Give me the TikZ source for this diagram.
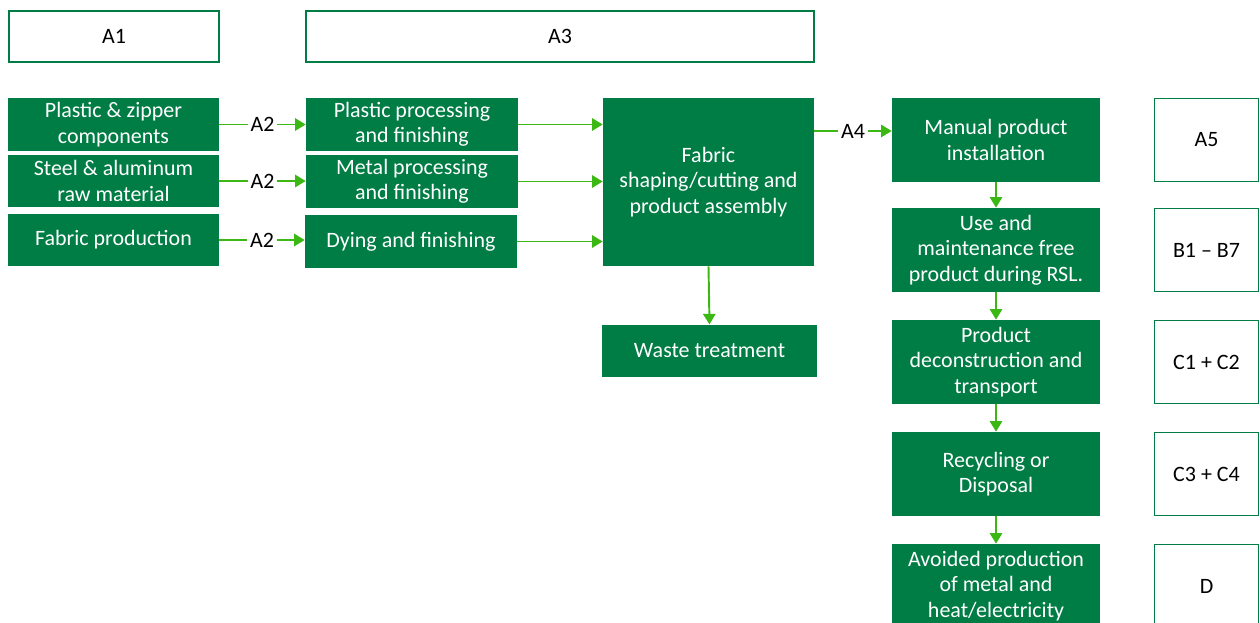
\documentclass[tikz,border=0pt]{standalone}
\usepackage{fontspec}
\setmainfont{Carlito}
\usetikzlibrary{arrows.meta}
\definecolor{dkgreen}{RGB}{0,124,69}
\definecolor{arrgreen}{RGB}{60,184,20}
\begin{document}
\begin{tikzpicture}[
			x=0.02cm, y=-0.02cm,
			gbox/.style={
			fill=dkgreen,
			text=white,
			text centered,
			align=center,
			inner sep=1pt,
			minimum width=4.22cm,
			minimum height=1.05cm,
			font=\fontsize{12.5}{14.5}\selectfont,
			anchor=center,
			},
			wbox/.style={
			draw=dkgreen,
			line width=1.1pt,
			fill=white,
			align=center,
			minimum width=4.2cm,
			minimum height=1.02cm,
			font=\fontsize{12.5}{14.5}\selectfont,
			},
			flow/.style={
			draw=arrgreen,
			line width=1.1pt,
			-{Triangle[width=7pt,length=6pt]},
			},
			lbl/.style={
			fill=white,
			inner sep=1.5pt,
			font=\fontsize{12.5}{14.5}\selectfont,
			},
			]

\useasboundingbox (0,0) rectangle (1260,622);

% phase headers
\draw
(114,36.5) node[wbox] (a1) {A1}
(560,36.5) node[wbox, minimum width=10.16cm] (a3) {A3}
;

% raw materials and processing
\draw
(113.5,124.5) node[gbox, minimum width=4.22cm] (plastic) {Plastic \& zipper\\components}
(113.5,181) node[gbox] (steel) {Steel \& aluminum\\raw material}
(113.5,240) node[gbox] (fabric) {Fabric production}
(412,124.5) node[gbox, minimum width=4.24cm] (plproc) {Plastic processing\\and finishing}
(412,181.5) node[gbox, minimum width=4.24cm] (meproc) {Metal processing\\and finishing}
(411,241.5) node[gbox, minimum width=4.24cm] (dying) {Dying and finishing}
(708.5,182) node[gbox, minimum height=3.36cm] (shaping) {Fabric\\shaping/cutting and\\product assembly}
(709.5,351) node[gbox, minimum width=4.3cm] (waste) {Waste treatment}
;

% use and end of life
\draw
(996,140) node[gbox, minimum width=4.16cm, minimum height=1.68cm] (install) {Manual product\\installation}
(996,250) node[gbox, minimum width=4.16cm, minimum height=1.68cm] (use) {Use and\\maintenance free\\product during RSL.}
(996,362) node[gbox, minimum width=4.16cm, minimum height=1.68cm] (decon) {Product\\deconstruction and\\transport}
(996,474) node[gbox, minimum width=4.16cm, minimum height=1.68cm] (recyc) {Recycling or\\Disposal}
(996,586) node[gbox, minimum width=4.16cm, minimum height=1.68cm] (avoid) {Avoided production\\of metal and\\heat/electricity}
;

% module labels
\draw
(1206.5,140) node[wbox, minimum width=2.08cm, minimum height=1.66cm] (a5) {A5}
(1206.5,250) node[wbox, minimum width=2.08cm, minimum height=1.66cm] (b17) {B1 – B7}
(1206.5,362) node[wbox, minimum width=2.08cm, minimum height=1.66cm] (c12) {C1 + C2}
(1206.5,474) node[wbox, minimum width=2.08cm, minimum height=1.66cm] (c34) {C3 + C4}
(1206.5,586) node[wbox, minimum width=2.08cm, minimum height=1.66cm] (dmod) {D}
;

\draw[flow] (plastic.east) -- node[lbl]{A2} (plproc.west);
\draw[flow] (steel.east) -- node[lbl]{A2} (steel.east -| meproc.west);
\draw[flow] (fabric.east) -- node[lbl]{A2} (fabric.east -| dying.west);

\draw[flow] (plproc.east) -- (plproc.east -| shaping.west);
\draw[flow] (meproc.east) -- (meproc.east -| shaping.west);
\draw[flow] (dying.east) -- (dying.east -| shaping.west);
\draw[flow] (shaping.south) -- (waste.north);

\draw[flow] (shaping.east |- 0,131) -- node[lbl]{A4} (install.west |- 0,131);
\draw[flow] (install) -- (use);
\draw[flow] (use) -- (decon);
\draw[flow] (decon) -- (recyc);
\draw[flow] (recyc) -- (avoid);

\end{tikzpicture}
\end{document}
